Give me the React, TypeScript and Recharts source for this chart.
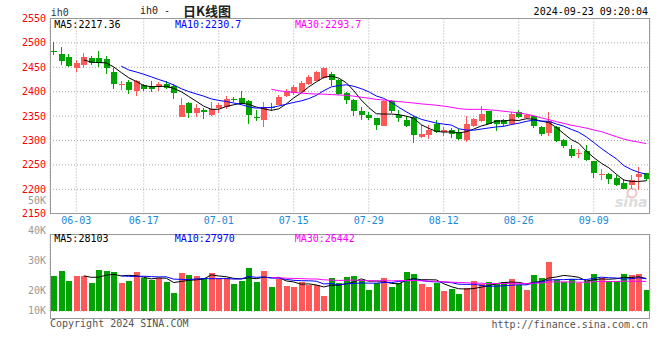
import { ComposedChart, Bar, Line, XAxis, YAxis, CartesianGrid } from 'recharts';

const MONO = "'DejaVu Sans Mono', 'Liberation Mono', monospace";
const RED = '#ff5858';
const GREEN = '#00a300';
const GRID = '#a8a8a8';
const FRAME = '#999999';

// trading days, 2024
const DATES = [
  '05-29', '05-30', '05-31',
  '06-03', '06-04', '06-05', '06-06', '06-07', '06-11', '06-12', '06-13', '06-14',
  '06-17', '06-18', '06-19', '06-20', '06-21', '06-24', '06-25', '06-26', '06-27', '06-28',
  '07-01', '07-02', '07-03', '07-04', '07-05', '07-08', '07-09', '07-10', '07-11', '07-12',
  '07-15', '07-16', '07-17', '07-18', '07-19', '07-22', '07-23', '07-24', '07-25', '07-26',
  '07-29', '07-30', '07-31', '08-01', '08-02', '08-05', '08-06', '08-07', '08-08', '08-09',
  '08-12', '08-13', '08-14', '08-15', '08-16', '08-19', '08-20', '08-21', '08-22', '08-23',
  '08-26', '08-27', '08-28', '08-29', '08-30', '09-02', '09-03', '09-04', '09-05', '09-06',
  '09-09', '09-10', '09-11', '09-12', '09-13', '09-18', '09-19', '09-20',
];

const OPEN = [
  2484, 2478, 2471, 2449, 2454, 2469, 2469, 2467, 2441, 2413,
  2419, 2402, 2413, 2410, 2409, 2416, 2412, 2349, 2376, 2356,
  2363, 2353, 2367, 2369, 2386, 2388, 2380, 2349, 2343, 2369,
  2373, 2392, 2397, 2400, 2415, 2422, 2428, 2436, 2423, 2398,
  2383, 2361, 2353, 2346, 2330, 2380, 2352, 2341, 2349, 2307,
  2312, 2334, 2317, 2322, 2318, 2302, 2330, 2340, 2360, 2342,
  2342, 2334, 2358, 2347, 2350, 2328, 2315, 2328, 2302, 2282,
  2274, 2279, 2257, 2230, 2232, 2223, 2213, 2209, 2225, 2233,
];
const HIGH = [
  2501, 2491, 2478, 2465, 2480, 2474, 2484, 2473, 2448, 2421,
  2423, 2425, 2416, 2421, 2420, 2422, 2416, 2387, 2379, 2375,
  2367, 2379, 2377, 2391, 2390, 2401, 2383, 2363, 2378, 2377,
  2394, 2406, 2414, 2421, 2434, 2443, 2450, 2441, 2426, 2400,
  2385, 2368, 2358, 2347, 2382, 2382, 2363, 2351, 2351, 2332,
  2331, 2341, 2328, 2326, 2323, 2350, 2347, 2371, 2361, 2343,
  2345, 2358, 2362, 2354, 2351, 2329, 2359, 2329, 2303, 2291,
  2282, 2291, 2259, 2241, 2233, 2230, 2221, 2230, 2245, 2234,
];
const LOW = [
  2476, 2455, 2450, 2441, 2448, 2455, 2450, 2436, 2406, 2404,
  2396, 2392, 2402, 2399, 2401, 2405, 2386, 2349, 2347, 2348,
  2344, 2350, 2357, 2365, 2378, 2375, 2333, 2339, 2327, 2360,
  2372, 2390, 2394, 2398, 2414, 2421, 2427, 2411, 2393, 2375,
  2351, 2341, 2343, 2322, 2330, 2357, 2337, 2328, 2294, 2305,
  2304, 2315, 2310, 2305, 2301, 2296, 2328, 2338, 2333, 2320,
  2330, 2332, 2347, 2345, 2325, 2310, 2309, 2296, 2284, 2264,
  2264, 2259, 2223, 2220, 2211, 2207, 2200, 2201, 2199, 2216,
];
const CLOSE = [
  2482, 2462, 2453, 2458, 2471, 2459, 2458, 2449, 2416, 2415,
  2404, 2421, 2406, 2406, 2416, 2408, 2397, 2373, 2357, 2367,
  2358, 2365, 2373, 2386, 2384, 2375, 2352, 2346, 2368, 2368,
  2390, 2402, 2409, 2418, 2430, 2441, 2449, 2423, 2396, 2383,
  2360, 2353, 2346, 2332, 2380, 2360, 2347, 2330, 2312, 2313,
  2322, 2317, 2322, 2314, 2303, 2334, 2344, 2354, 2334, 2334,
  2334, 2354, 2349, 2352, 2330, 2313, 2340, 2299, 2289, 2268,
  2275, 2260, 2233, 2232, 2221, 2209, 2200, 2219, 2232, 2221,
];

const MA5 = [
  null, null, null, null,
  2465.2, 2460.5, 2459.8, 2459.0, 2450.6, 2439.4, 2428.5, 2421.0, 2412.4, 2410.4,
  2410.6, 2411.4, 2406.6, 2400.0, 2390.2, 2380.4, 2370.4, 2364.0, 2364.0, 2369.8,
  2373.2, 2376.6, 2374.0, 2368.6, 2365.0, 2361.8, 2364.8, 2374.8, 2387.4, 2397.4,
  2409.8, 2420.0, 2429.4, 2432.2, 2427.8, 2418.4, 2402.2, 2383.0, 2367.6, 2354.8,
  2354.2, 2354.2, 2353.0, 2349.8, 2345.8, 2332.4, 2324.8, 2318.8, 2317.2, 2317.6,
  2315.6, 2318.0, 2323.4, 2329.8, 2333.8, 2340.0, 2340.0, 2342.0, 2341.0, 2344.6,
  2343.8, 2339.6, 2336.8, 2326.8, 2314.2, 2301.8, 2294.2, 2278.2, 2265.0, 2253.6,
  2244.2, 2231.0, 2219.0, 2216.2, 2216.2, 2217.4,
];
const MA10 = [
  null, null, null, null, null, null, null, null, null,
  2452.3, 2444.5, 2440.4, 2435.7, 2430.5, 2425.0, 2420.0, 2413.8, 2406.2, 2400.3,
  2395.5, 2390.9, 2385.3, 2382.0, 2380.0, 2376.8, 2373.5, 2369.0, 2366.3, 2367.4,
  2367.5, 2370.7, 2374.4, 2378.0, 2381.2, 2385.8, 2392.4, 2402.1, 2409.8, 2412.6,
  2414.1, 2411.1, 2406.2, 2399.9, 2391.3, 2386.3, 2378.2, 2368.0, 2358.7, 2350.3,
  2343.3, 2339.5, 2335.9, 2333.5, 2331.7, 2324.0, 2321.4, 2321.1, 2323.5, 2325.7,
  2327.8, 2329.0, 2332.7, 2335.4, 2339.2, 2341.9, 2339.8, 2339.4, 2333.9, 2329.4,
  2322.8, 2316.9, 2307.5, 2295.9, 2283.9, 2273.0, 2262.6, 2248.6, 2240.6, 2234.9,
  2230.7,
];
const MA30 = [
  null, null, null, null, null, null, null, null, null, null,
  null, null, null, null, null, null, null, null, null, null,
  null, null, null, null, null, null, null, null, null,
  2405.1, 2402.0, 2400.0, 2398.6, 2397.2, 2395.9, 2395.3, 2395.0, 2394.1, 2393.4,
  2392.4, 2390.9, 2388.6, 2386.6, 2384.2, 2383.0, 2381.4, 2379.7, 2378.3, 2376.8,
  2375.0, 2373.8, 2372.2, 2370.5, 2368.1, 2365.4, 2364.0, 2363.7, 2364.0, 2362.9,
  2361.7, 2359.9, 2358.3, 2356.3, 2354.1, 2350.7, 2346.5, 2342.8, 2338.7, 2335.1,
  2331.3, 2328.5, 2325.4, 2321.6, 2318.3, 2313.0, 2307.9, 2303.0, 2299.3, 2296.7,
  2293.7,
];

const VOLUME = [
  29450, 31930, 26970, 29450, 29450, 25640, 32420, 31930, 31430, 25640,
  26970, 31430, 28120, 27320, 28120, 26140, 20690, 30940, 29950, 29450,
  28310, 30940, 28120, 28120, 25340, 26970, 33410, 26140, 31930, 24000,
  27820, 24500, 23660, 26140, 25000, 25000, 19550, 28120, 25990, 28710,
  29350, 27370, 22420, 26090, 28460, 24010, 26090, 31330, 30440, 25590,
  24000, 25630, 21820, 23010, 20440, 23310, 26770, 25390, 26280, 25780,
  26280, 27860, 24640, 22420, 29840, 28360, 36280, 27370, 26380, 27860,
  25640, 26980, 30540, 28460, 26980, 26980, 30540, 29950, 30540, 22520,
];
const VOL_MA5 = [
  null, null, null, null,
  29450, 28688, 28786, 29778, 30174, 29412, 29678, 29480, 28718, 27896,
  28392, 28226, 26078, 26642, 27168, 27434, 27868, 29918, 29354, 28988,
  28166, 27898, 28392, 27996, 28758, 28490, 28660, 26878, 26382, 25224,
  25424, 24860, 23870, 24762, 24732, 25474, 26344, 27908, 26768, 26788,
  26738, 25670, 25414, 27196, 28066, 27492, 27490, 27398, 25496, 24010,
  22980, 22842, 23070, 23784, 24438, 25506, 26100, 26318, 26168, 25396,
  26208, 26624, 28308, 28854, 29646, 29250, 28706, 26846, 27480, 27896,
  27720, 27988, 28700, 28582, 28998, 28103,
];
const VOL_MA10 = [
  null, null, null, null, null, null, null, null, null,
  29431, 29183, 29133, 29248, 29035, 28902, 28952, 27779, 27680, 27532,
  27913, 28047, 27998, 27998, 28078, 27800, 27883, 29155, 28675, 28873,
  28328, 28279, 27635, 27189, 26991, 26957, 26760, 25374, 25572, 24978,
  25449, 25602, 25889, 25765, 25760, 26106, 26007, 26661, 26982, 27427,
  27115, 26580, 26406, 26346, 26038, 25236, 25166, 25234, 24640, 24224,
  24243, 24471, 24694, 24976, 24917, 25857, 26362, 27313, 27511, 27521,
  27729, 27665, 27577, 28167, 28771, 28485, 28347, 27773, 28031, 28447,
  27970,
];
const VOL_MA30 = [
  null, null, null, null, null, null, null, null, null, null,
  null, null, null, null, null, null, null, null, null, null,
  null, null, null, null, null, null, null, null, null,
  28557, 28503, 28255, 28145, 28035, 27886, 27865, 27436, 27309, 27128,
  27230, 27309, 27174, 26984, 26943, 26954, 26883, 27063, 27076, 27093,
  26964, 26820, 26643, 26433, 26263, 26100, 25978, 25756, 25731, 25543,
  25602, 25551, 25663, 25696, 25572, 25733, 25845, 26403, 26378, 26391,
  26362, 26239, 26226, 26496, 26575, 26526, 26625, 26773, 26727, 26731,
  26628,
];

const DATE_TICKS = ['06-03', '06-17', '07-01', '07-15', '07-29', '08-12', '08-26', '09-09'];
const PRICE_TICKS = [2150, 2200, 2250, 2300, 2350, 2400, 2450, 2500, 2550];
const VOL_GRID_TICKS = [20000, 30000, 40000];
const VOL_LABELS = ['50K', '40K', '30K', '20K', '10K'];

const priceRows = DATES.map((date, i) => ({
  date, o: OPEN[i], h: HIGH[i], l: LOW[i], c: CLOSE[i],
  ma5: MA5[i], ma10: MA10[i], ma30: MA30[i],
}));
const volRows = DATES.map((date, i) => ({
  date, o: OPEN[i], c: CLOSE[i], v: VOLUME[i],
  ma5: VOL_MA5[i], ma10: VOL_MA10[i], ma30: VOL_MA30[i],
}));

function Candle(props: any) {
  const { x, y, width, height, payload } = props;
  if (!payload || height == null) return null;
  const { o, h, l, c } = payload;
  const color = c > o ? RED : GREEN;
  const k = h > l ? height / (h - l) : 0;
  const top = Math.round(y + (h - Math.max(o, c)) * k);
  const bot = Math.round(y + (h - Math.min(o, c)) * k);
  const left = Math.round(x);
  const mid = left + 2.5;
  return (
    <g>
      <line x1={mid} x2={mid} y1={Math.round(y)} y2={Math.round(y + height)} stroke={color} strokeWidth={1} />
      <rect x={left} y={top} width={Math.round(width)} height={Math.max(1, bot - top)} fill={color} />
    </g>
  );
}

function VolBar(props: any) {
  const { x, y, width, height, payload } = props;
  if (!payload) return null;
  const top = Math.round(y);
  return (
    <rect x={Math.round(x)} y={top} width={Math.round(width)} height={Math.round(y + height) - top}
      fill={payload.c > payload.o ? RED : GREEN} />
  );
}

function DateTick(props: any) {
  const { x, y, payload } = props;
  return (
    <text x={x} y={y + 7} textAnchor="middle" dominantBaseline="central"
      fill="#1a88d8" fontSize={10} fontFamily={MONO}>{payload.value}</text>
  );
}

export default function App() {
  const volLabelY = [200, 230.7, 260.7, 290.3, 310.3];
  return (
    <div style={{ position: 'relative', width: 660, height: 360, background: '#fff', overflow: 'hidden' }}>
      <style>{'body{margin:0}'}</style>

      {/* faint watermark behind the candles */}
      <svg width={660} height={360} style={{ position: 'absolute', left: 0, top: 0 }}>
        <circle cx={632} cy={193} r={4.5} fill="none" stroke="#f3c4c4" strokeWidth={2} />
        <text x={615} y={207} fontSize={14} fontStyle="italic" fontWeight="bold"
          fontFamily="'DejaVu Sans', sans-serif" fill="#dcdcdc">sina</text>
      </svg>

      <div style={{ position: 'absolute', left: 0, top: 0 }}>
        <ComposedChart width={660} height={230} data={priceRows}
          margin={{ top: 18.5, right: 10, bottom: 0, left: 0 }}>
          <CartesianGrid stroke={GRID} strokeDasharray="1 2" />
          <XAxis dataKey="date" ticks={DATE_TICKS} interval={0} height={16.3}
            tickSize={0} tickMargin={0} axisLine={false} tickLine={false} tick={<DateTick />} />
          <YAxis domain={[2150, 2550]} ticks={PRICE_TICKS} width={50} tickSize={0} tickMargin={4}
            axisLine={false} tickLine={false}
            tick={{ fill: '#ff0000', fontSize: 10, fontFamily: MONO }} />
          <Bar dataKey={(d: any) => [d.l, d.h]} barSize={6} shape={<Candle />} isAnimationActive={false} />
          <Line dataKey="ma5" stroke="#000000" strokeWidth={1} dot={false} isAnimationActive={false} />
          <Line dataKey="ma10" stroke="#0000ff" strokeWidth={1} dot={false} isAnimationActive={false} />
          <Line dataKey="ma30" stroke="#ff00ff" strokeWidth={1} dot={false} isAnimationActive={false} />
        </ComposedChart>
      </div>

      <div style={{ position: 'absolute', left: 0, top: 230 }}>
        <ComposedChart width={660} height={90} data={volRows}
          margin={{ top: 4.7, right: 10, bottom: 0, left: 0 }}>
          <CartesianGrid stroke={GRID} strokeDasharray="1 2" />
          <XAxis dataKey="date" ticks={DATE_TICKS} interval={0} height={9}
            tick={false} axisLine={false} tickLine={false} />
          <YAxis domain={[11850, 50000]} ticks={VOL_GRID_TICKS} width={50}
            tick={false} axisLine={false} tickLine={false} />
          <Bar dataKey="v" barSize={6} shape={<VolBar />} isAnimationActive={false} />
          <Line dataKey="ma5" stroke="#000000" strokeWidth={1} dot={false} isAnimationActive={false} />
          <Line dataKey="ma10" stroke="#0000ff" strokeWidth={1} dot={false} isAnimationActive={false} />
          <Line dataKey="ma30" stroke="#ff00ff" strokeWidth={1} dot={false} isAnimationActive={false} />
        </ComposedChart>
      </div>

      <svg width={660} height={360} style={{ position: 'absolute', left: 0, top: 0, pointerEvents: 'none' }}
        fontFamily={MONO} fontSize={10}>
        <rect x={50.5} y={18.5} width={599} height={195} fill="none" stroke={FRAME} />
        <rect x={50.5} y={234.5} width={599} height={84} fill="none" stroke={FRAME} />

        <text x={50.7} y={12.7} dominantBaseline="central" fill="#333">ih0</text>
        <text x={140} y={10} dominantBaseline="central" fill="#222">
          ih0 -
          <tspan x={183} fontFamily="'Noto Sans CJK SC', sans-serif" fontSize={13} fontWeight="bold">日K线图</tspan>
        </text>
        <text x={648} y={11.7} textAnchor="end" dominantBaseline="central" fill="#000">2024-09-23 09:20:04</text>

        <text x={54.3} y={24} dominantBaseline="central" fill="#000">MA5:2217.36</text>
        <text x={175} y={24} dominantBaseline="central" fill="#0000ff">MA10:2230.7</text>
        <text x={295} y={24} dominantBaseline="central" fill="#ff00ff">MA30:2293.7</text>

        <text x={54.3} y={238} dominantBaseline="central" fill="#000">MA5:28103</text>
        <text x={174.7} y={238} dominantBaseline="central" fill="#0000ff">MA10:27970</text>
        <text x={294.7} y={238} dominantBaseline="central" fill="#ff00ff">MA30:26442</text>

        {VOL_LABELS.map((t, i) => (
          <text key={t} x={46} y={volLabelY[i]} textAnchor="end" dominantBaseline="central" fill="#999">{t}</text>
        ))}

        <text x={50} y={323.5} dominantBaseline="central" fill="#555">Copyright 2024 SINA.COM</text>
        <text x={648} y={324} textAnchor="end" dominantBaseline="central" fill="#555">http://finance.sina.com.cn</text>
      </svg>
    </div>
  );
}
